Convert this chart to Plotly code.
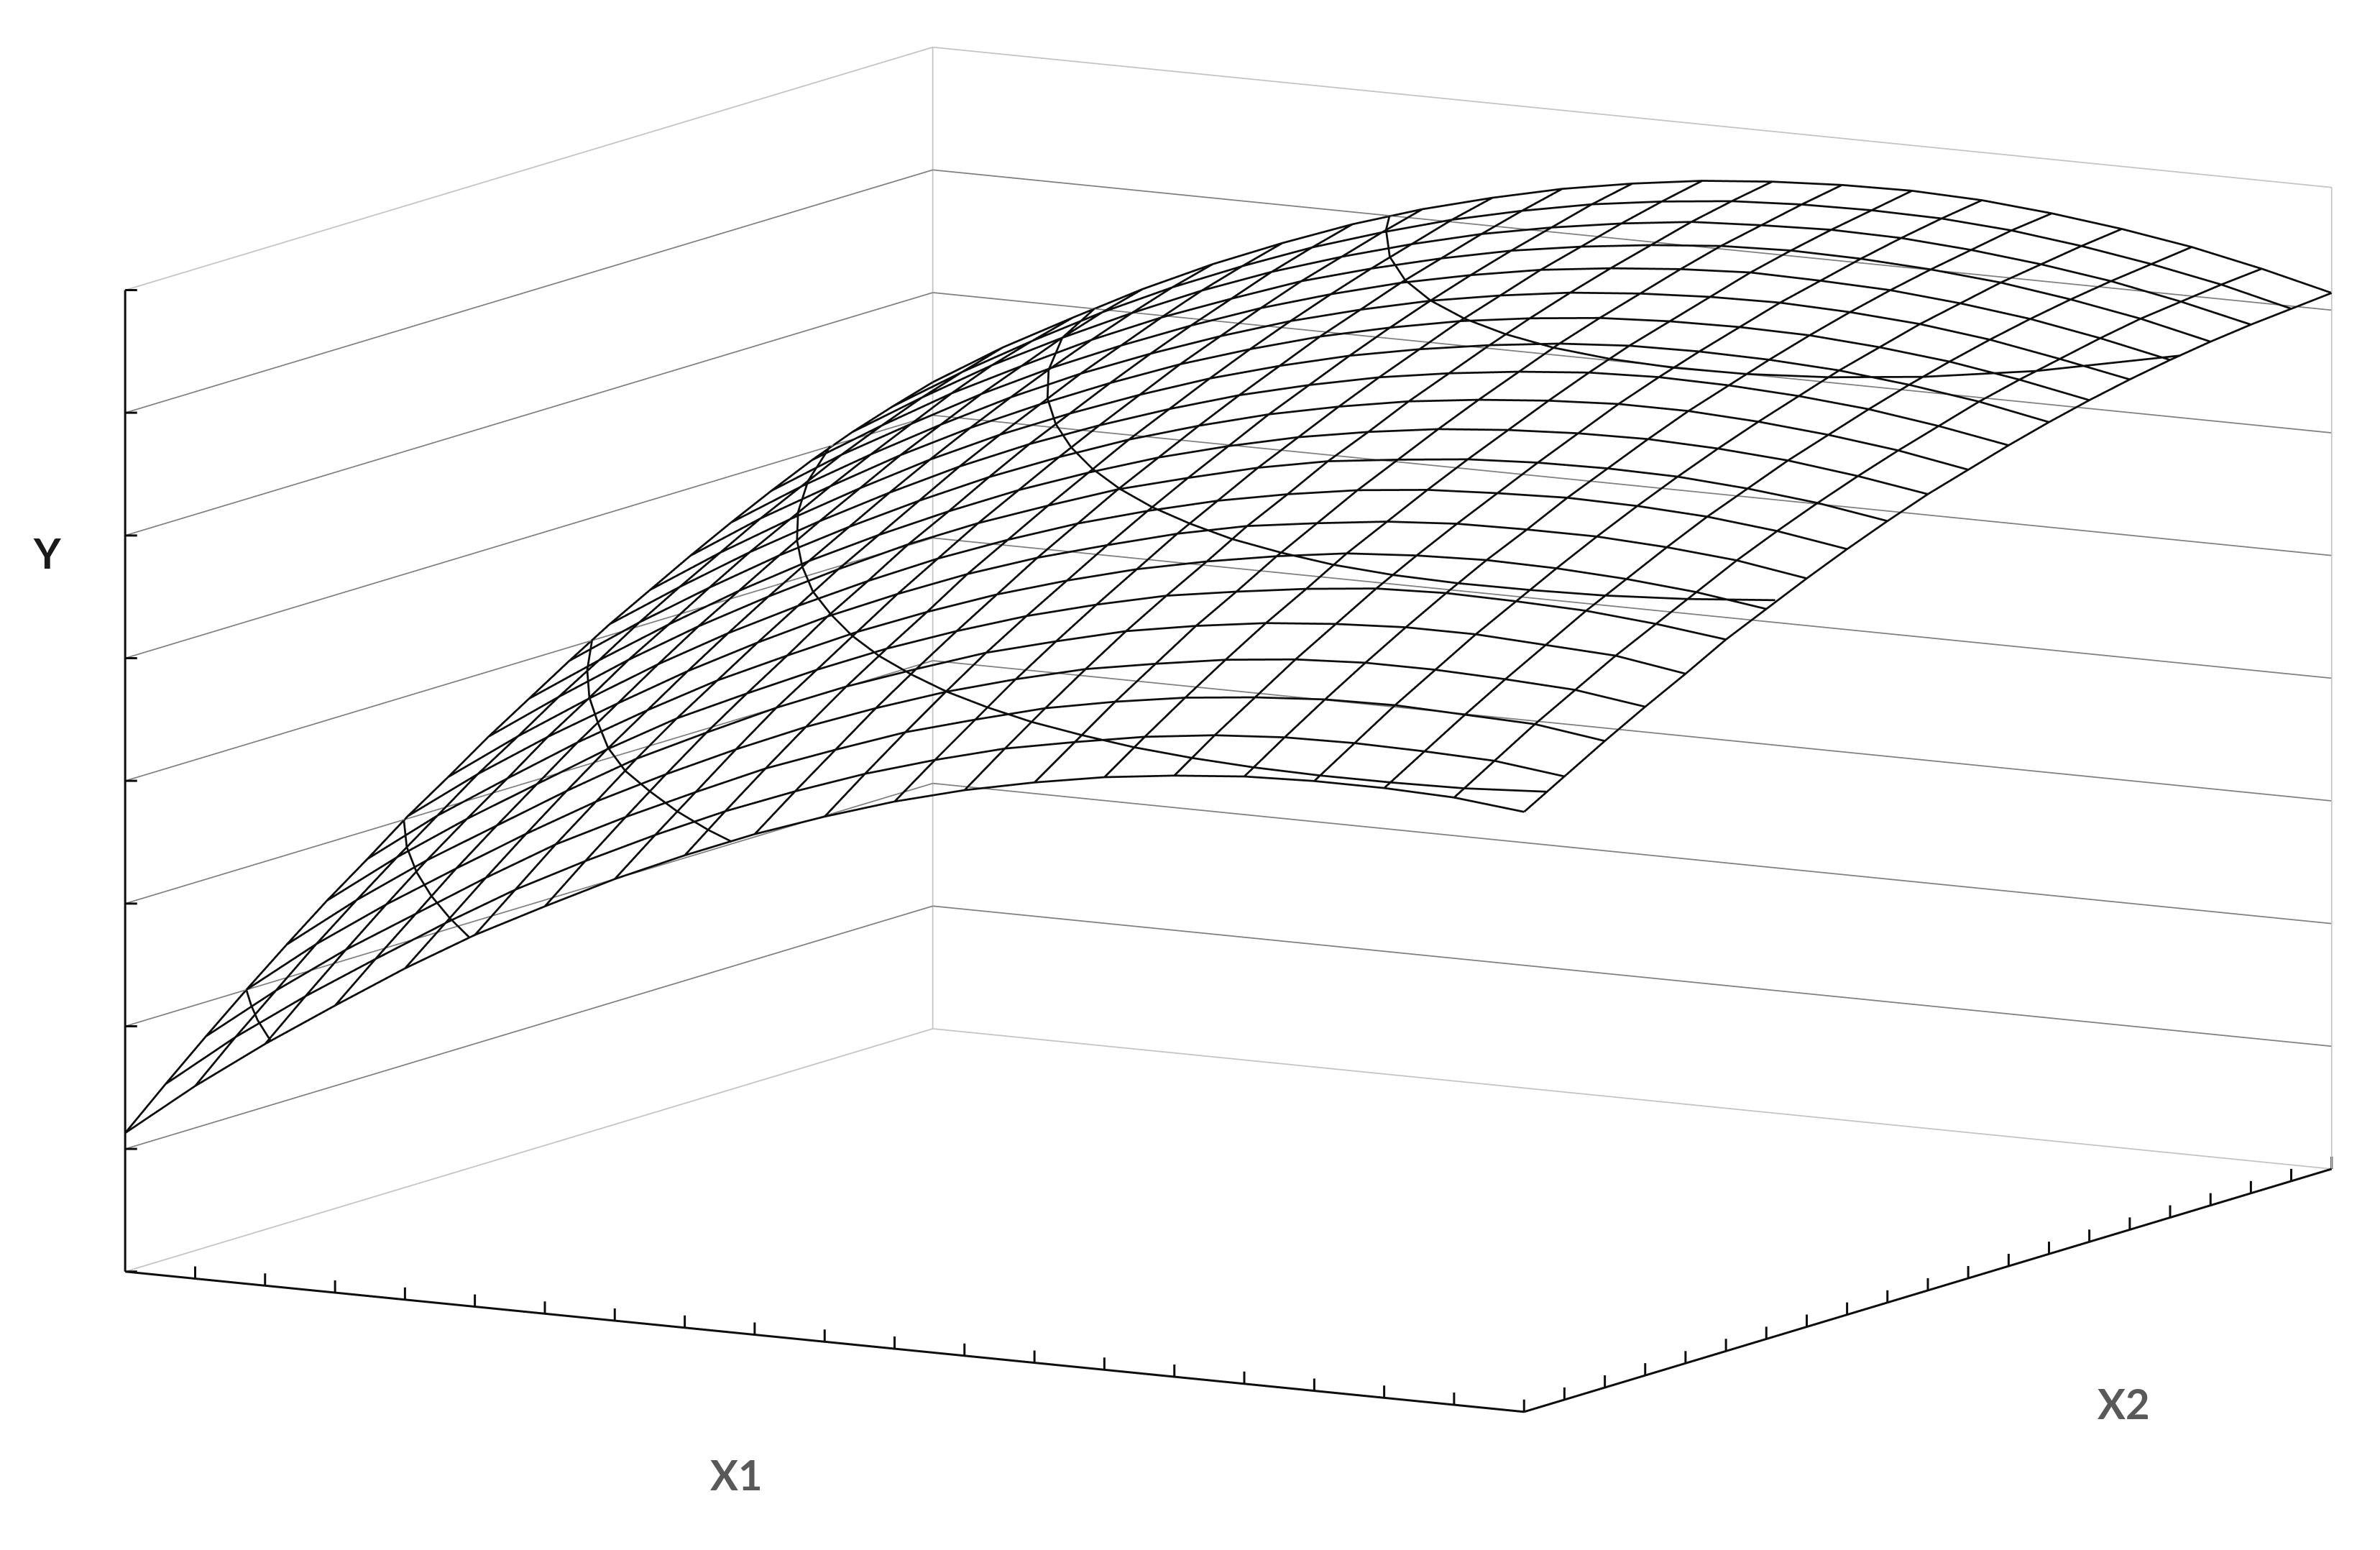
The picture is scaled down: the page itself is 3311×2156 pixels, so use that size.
import plotly.graph_objects as go

# axis positions, X1 and X2 on 20 intervals, Y on 8
x1_vals = list(range(21))
x2_vals = list(range(21))
y_ticks = [0, 1, 2, 3, 4, 5, 6, 7, 8]

# Y: one row per X2 step, one column per X1 step
y_grid = [
    [1.13, 1.57, 1.97, 2.34, 2.70, 3.03, 3.32, 3.60, 3.85, 4.08, 4.28, 4.46, 4.61, 4.73, 4.83, 4.90, 4.95, 4.97, 4.97, 4.95, 4.89],
    [1.43, 1.87, 2.26, 2.62, 2.97, 3.30, 3.59, 3.86, 4.11, 4.33, 4.53, 4.70, 4.85, 4.96, 5.06, 5.13, 5.17, 5.18, 5.17, 5.15, 5.08],
    [1.72, 2.15, 2.54, 2.89, 3.24, 3.57, 3.85, 4.11, 4.36, 4.57, 4.77, 4.93, 5.08, 5.19, 5.28, 5.34, 5.38, 5.39, 5.37, 5.35, 5.27],
    [2.00, 2.43, 2.81, 3.16, 3.50, 3.82, 4.10, 4.36, 4.60, 4.81, 5.00, 5.16, 5.30, 5.40, 5.49, 5.55, 5.58, 5.58, 5.56, 5.53, 5.45],
    [2.27, 2.69, 3.07, 3.41, 3.75, 4.07, 4.34, 4.60, 4.83, 5.03, 5.22, 5.37, 5.51, 5.61, 5.69, 5.74, 5.77, 5.77, 5.74, 5.71, 5.62],
    [2.53, 2.94, 3.31, 3.65, 3.99, 4.30, 4.56, 4.81, 5.04, 5.24, 5.42, 5.57, 5.70, 5.79, 5.87, 5.93, 5.95, 5.94, 5.92, 5.87, 5.80],
    [2.77, 3.18, 3.54, 3.89, 4.21, 4.51, 4.77, 5.02, 5.24, 5.44, 5.61, 5.76, 5.88, 5.98, 6.06, 6.10, 6.12, 6.11, 6.08, 6.03, 5.95],
    [3.02, 3.42, 3.78, 4.11, 4.43, 4.72, 4.99, 5.23, 5.45, 5.64, 5.80, 5.95, 6.07, 6.15, 6.22, 6.26, 6.27, 6.27, 6.24, 6.19, 6.10],
    [3.24, 3.63, 3.99, 4.33, 4.64, 4.92, 5.18, 5.42, 5.63, 5.82, 5.98, 6.12, 6.23, 6.32, 6.38, 6.41, 6.43, 6.42, 6.39, 6.33, 6.24],
    [3.47, 3.85, 4.21, 4.54, 4.84, 5.12, 5.38, 5.61, 5.81, 6.00, 6.15, 6.29, 6.40, 6.47, 6.53, 6.56, 6.57, 6.56, 6.52, 6.46, 6.37],
    [3.68, 4.05, 4.40, 4.73, 5.03, 5.30, 5.55, 5.78, 5.98, 6.16, 6.31, 6.44, 6.54, 6.62, 6.67, 6.70, 6.71, 6.69, 6.65, 6.58, 6.49],
    [3.89, 4.26, 4.60, 4.92, 5.21, 5.48, 5.73, 5.95, 6.15, 6.32, 6.47, 6.59, 6.69, 6.76, 6.81, 6.84, 6.84, 6.81, 6.76, 6.69, 6.59],
    [4.09, 4.45, 4.79, 5.10, 5.39, 5.66, 5.90, 6.11, 6.30, 6.47, 6.61, 6.73, 6.82, 6.89, 6.94, 6.96, 6.95, 6.92, 6.87, 6.79, 6.69],
    [4.27, 4.63, 4.96, 5.27, 5.56, 5.82, 6.05, 6.26, 6.45, 6.61, 6.75, 6.86, 6.95, 7.02, 7.06, 7.07, 7.06, 7.03, 6.97, 6.89, 6.78],
    [4.45, 4.81, 5.13, 5.44, 5.72, 5.97, 6.20, 6.41, 6.59, 6.75, 6.88, 6.99, 7.07, 7.13, 7.16, 7.17, 7.16, 7.12, 7.06, 6.97, 6.86],
    [4.62, 4.97, 5.29, 5.59, 5.87, 6.12, 6.34, 6.54, 6.72, 6.87, 7.00, 7.10, 7.18, 7.23, 7.26, 7.27, 7.25, 7.21, 7.14, 7.04, 6.93],
    [4.78, 5.13, 5.44, 5.74, 6.01, 6.25, 6.47, 6.67, 6.84, 6.99, 7.11, 7.21, 7.28, 7.33, 7.36, 7.35, 7.33, 7.28, 7.21, 7.11, 6.99],
    [4.93, 5.27, 5.59, 5.87, 6.14, 6.38, 6.59, 6.79, 6.95, 7.09, 7.21, 7.30, 7.37, 7.42, 7.44, 7.43, 7.40, 7.35, 7.27, 7.17, 7.04],
    [5.06, 5.40, 5.72, 6.00, 6.26, 6.50, 6.71, 6.89, 7.05, 7.19, 7.30, 7.39, 7.46, 7.49, 7.51, 7.50, 7.46, 7.40, 7.32, 7.21, 7.08],
    [5.17, 5.51, 5.82, 6.11, 6.37, 6.60, 6.81, 6.99, 7.15, 7.28, 7.39, 7.47, 7.53, 7.56, 7.57, 7.56, 7.52, 7.45, 7.36, 7.25, 7.11],
    [5.27, 5.61, 5.91, 6.20, 6.46, 6.69, 6.90, 7.08, 7.23, 7.36, 7.46, 7.54, 7.59, 7.62, 7.63, 7.61, 7.56, 7.49, 7.40, 7.28, 7.14],
]

# level lines traced on the surface, (X1, X2) per Y level
contour_2_x1 = [0, 0.6, 1.2, 1.8, 2.08]
contour_2_x2 = [3.0, 2.08, 1.2, 0.38, 0]
contour_3_x1 = [0, 1, 2, 3, 4, 4.93]
contour_3_x2 = [6.9, 5.24, 3.75, 2.38, 1.11, 0]
contour_4_x1 = [0, 1, 2, 3, 4, 5, 6, 7, 8, 8.67]
contour_4_x2 = [11.56, 9.71, 8.03, 6.51, 5.03, 3.72, 2.6, 1.54, 0.58, 0]
contour_5_x1 = [0, 1, 2, 3, 4, 5, 6, 7, 8, 9, 10, 11, 12, 13, 14, 15, 16, 17, 18, 19, 20]
contour_5_x2 = [17.46, 15.18, 13.2, 11.44, 9.84, 8.37, 7.08, 5.88, 4.81, 3.87, 3.02, 2.3, 1.67, 1.17, 0.74, 0.44, 0.24, 0.15, 0.16, 0.25, 0.55]
contour_6_x1 = [2.31, 3, 4, 5, 6, 7, 8, 9, 10, 11, 12, 13, 14, 15, 16, 17, 18, 19, 20]
contour_6_x2 = [20, 18.01, 15.94, 14.18, 12.65, 11.3, 10.1, 9.04, 8.11, 7.32, 6.63, 6.1, 5.67, 5.41, 5.3, 5.33, 5.45, 5.74, 6.22]
contour_7_x1 = [6.53, 7, 8, 9, 10, 11, 12, 13, 14, 15, 16, 17, 18, 19, 20]
contour_7_x2 = [20, 19.1, 17.46, 16.11, 15.01, 14.11, 13.4, 12.86, 12.52, 12.37, 12.43, 12.74, 13.35, 14.41, 16.26]

contours = [
    (2, contour_2_x1, contour_2_x2),
    (3, contour_3_x1, contour_3_x2),
    (4, contour_4_x1, contour_4_x2),
    (5, contour_5_x1, contour_5_x2),
    (6, contour_6_x1, contour_6_x2),
    (7, contour_7_x1, contour_7_x2),
]

x_lo, x_hi = x1_vals[0], x1_vals[-1]
y_lo, y_hi = x2_vals[0], x2_vals[-1]
z_lo, z_hi = y_ticks[0], y_ticks[-1]

BLACK = "#0d0d0d"
LINE_W = 5.5


def add_lines(fig, xs, ys, zs, color, width):
    fig.add_trace(go.Scatter3d(x=xs, y=ys, z=zs, mode="lines", line=dict(color=color, width=width), hoverinfo="skip"))


fig = go.Figure()

# horizontal lines on the two back walls
gx, gy, gz = [], [], []
for t in y_ticks[1:-1]:
    gx += [x_lo, x_lo, x_hi, None]
    gy += [y_lo, y_hi, y_hi, None]
    gz += [t, t, t, None]
add_lines(fig, gx, gy, gz, "#808080", 3.5)

# box edges: light at the back
add_lines(fig,
          [x_lo, x_lo, x_hi, None, x_lo, x_lo, x_hi, None, x_lo, x_lo, None, x_hi, x_hi],
          [y_lo, y_hi, y_hi, None, y_lo, y_hi, y_hi, None, y_hi, y_hi, None, y_hi, y_hi],
          [z_hi, z_hi, z_hi, None, z_lo, z_lo, z_lo, None, z_lo, z_hi, None, z_lo, z_hi],
          "#c4c4c4", 3.5)

# mesh, both directions, broken with None
mx, my, mz = [], [], []
for j, row in enumerate(y_grid):
    for i, val in enumerate(row):
        mx.append(x1_vals[i])
        my.append(x2_vals[j])
        mz.append(val)
    mx.append(None)
    my.append(None)
    mz.append(None)
for i in range(len(x1_vals)):
    for j in range(len(x2_vals)):
        mx.append(x1_vals[i])
        my.append(x2_vals[j])
        mz.append(y_grid[j][i])
    mx.append(None)
    my.append(None)
    mz.append(None)
add_lines(fig, mx, my, mz, BLACK, LINE_W)

# level lines
cx, cy, cz = [], [], []
for level, c_x1, c_x2 in contours:
    cx += c_x1 + [None]
    cy += c_x2 + [None]
    cz += [level] * len(c_x1) + [None]
add_lines(fig, cx, cy, cz, BLACK, LINE_W)

# the black axes and their ticks
ax = [x_lo, x_lo, None, x_lo, x_hi, x_hi, None]
ay = [y_lo, y_lo, None, y_lo, y_lo, y_hi, None]
az = [z_hi, z_lo, None, z_lo, z_lo, z_lo, None]
for t in x1_vals:
    ax += [t, t, None]
    ay += [y_lo, y_lo, None]
    az += [z_lo, z_lo + 0.1, None]
for t in x2_vals:
    ax += [x_hi, x_hi, None]
    ay += [t, t, None]
    az += [z_lo, z_lo + 0.1, None]
for t in y_ticks:
    ax += [x_lo, x_lo + 0.128, None]
    ay += [y_lo, y_lo + 0.074, None]
    az += [t, t, None]
add_lines(fig, ax, ay, az, BLACK, 6)

hidden = dict(showgrid=False, zeroline=False, showline=False, showticklabels=False, ticks="",
              showbackground=False, showspikes=False, title="")

# orthographic: size comes from the aspect ratio, not from the eye distance
eye_dir = (0.4924, -0.8529, 0.1736)
cam_r = 4.0
cam_c = (-0.0308, -0.0310, -0.0651)


def label(text, px, py, color):
    return dict(text="<b>" + text + "</b>", x=px / 3311, y=1 - py / 2156, xref="paper", yref="paper",
                xanchor="center", yanchor="middle", showarrow=False,
                font=dict(family="Lato", size=58, color=color))


fig.update_layout(
    width=3311, height=2156,
    margin=dict(l=0, r=0, t=0, b=0),
    paper_bgcolor="white",
    showlegend=False,
    scene=dict(
        domain=dict(x=[0, 1], y=[0, 1]),
        aspectmode="manual",
        aspectratio=dict(x=2.0845, y=2.0845, z=1.286),
        xaxis=dict(range=[x_lo, x_hi], **hidden),
        yaxis=dict(range=[y_lo, y_hi], **hidden),
        zaxis=dict(range=[z_lo, z_hi], **hidden),
        camera=dict(
            projection=dict(type="orthographic"),
            up=dict(x=0, y=0, z=1),
            center=dict(x=cam_c[0], y=cam_c[1], z=cam_c[2]),
            eye=dict(x=cam_c[0] + eye_dir[0] * cam_r, y=cam_c[1] + eye_dir[1] * cam_r, z=cam_c[2] + eye_dir[2] * cam_r),
        ),
    ),
    annotations=[
        label("Y", 57, 761, "#1a1a1a"),
        label("X1", 1016, 2042, "#595959"),
        label("X2", 2946, 1943, "#595959"),
    ],
)

fig.write_html("out.html")
